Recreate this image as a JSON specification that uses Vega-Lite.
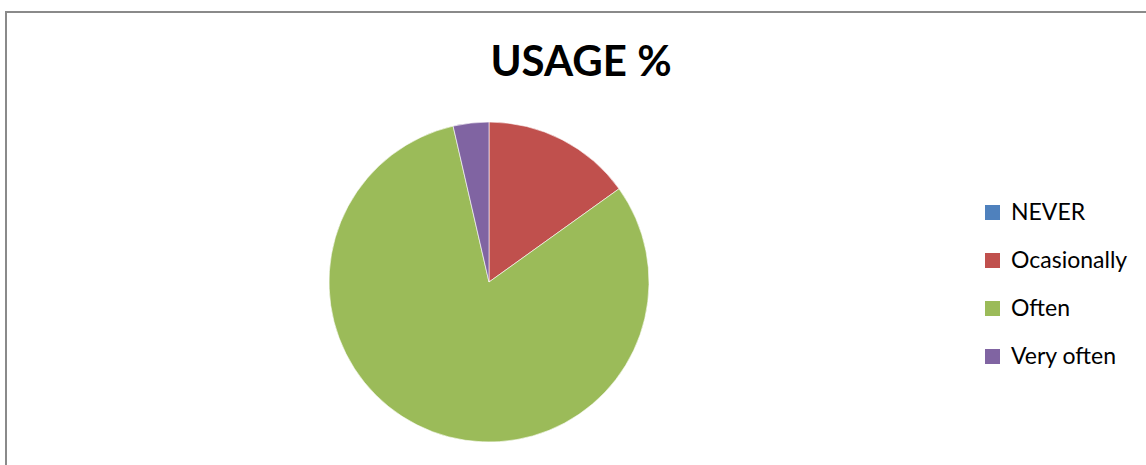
{
  "$schema": "https://vega.github.io/schema/vega-lite/v6.json",
  "autosize": {"type": "none"},
  "padding": {"left": 6, "top": 12, "right": 0, "bottom": 0},
  "width": 1150,
  "height": 460,
  "background": "white",
  "title": {
    "text": "USAGE %",
    "font": "Lato",
    "fontSize": 42,
    "fontWeight": "bold",
    "color": "#000000",
    "anchor": "middle",
    "frame": "group",
    "orient": "top",
    "baseline": "alphabetic",
    "offset": -106
  },
  "data": {
    "values": [
      {"category": "NEVER", "value": 0, "order": 1},
      {"category": "Ocasionally", "value": 15.1, "order": 2},
      {"category": "Often", "value": 81.3, "order": 3},
      {"category": "Very often", "value": 3.6, "order": 4}
    ]
  },
  "mark": {"type": "arc", "outerRadius": 160, "stroke": "white", "strokeWidth": 0.6},
  "encoding": {
    "theta": {"field": "value", "type": "quantitative", "stack": true},
    "order": {"field": "order", "type": "quantitative"},
    "x": {"datum": 0.42, "type": "quantitative", "scale": {"domain": [0, 1]}, "axis": null},
    "y": {"datum": 0.413, "type": "quantitative", "scale": {"domain": [0, 1]}, "axis": null},
    "color": {
      "field": "category",
      "type": "nominal",
      "sort": ["NEVER", "Ocasionally", "Often", "Very often"],
      "scale": {
        "domain": ["NEVER", "Ocasionally", "Often", "Very often"],
        "range": ["#4F81BD", "#C0504D", "#9BBB59", "#8064A2"]
      },
      "legend": {
        "title": null,
        "orient": "none",
        "legendX": 975,
        "legendY": 189,
        "symbolType": "square",
        "symbolSize": 225,
        "symbolStrokeWidth": 0,
        "labelFont": "Lato",
        "labelFontSize": 23,
        "labelColor": "#000000",
        "labelOffset": 7,
        "rowPadding": 24
      }
    }
  },
  "config": {
    "view": {"stroke": "#8a8a8a", "strokeWidth": 2}
  }
}
